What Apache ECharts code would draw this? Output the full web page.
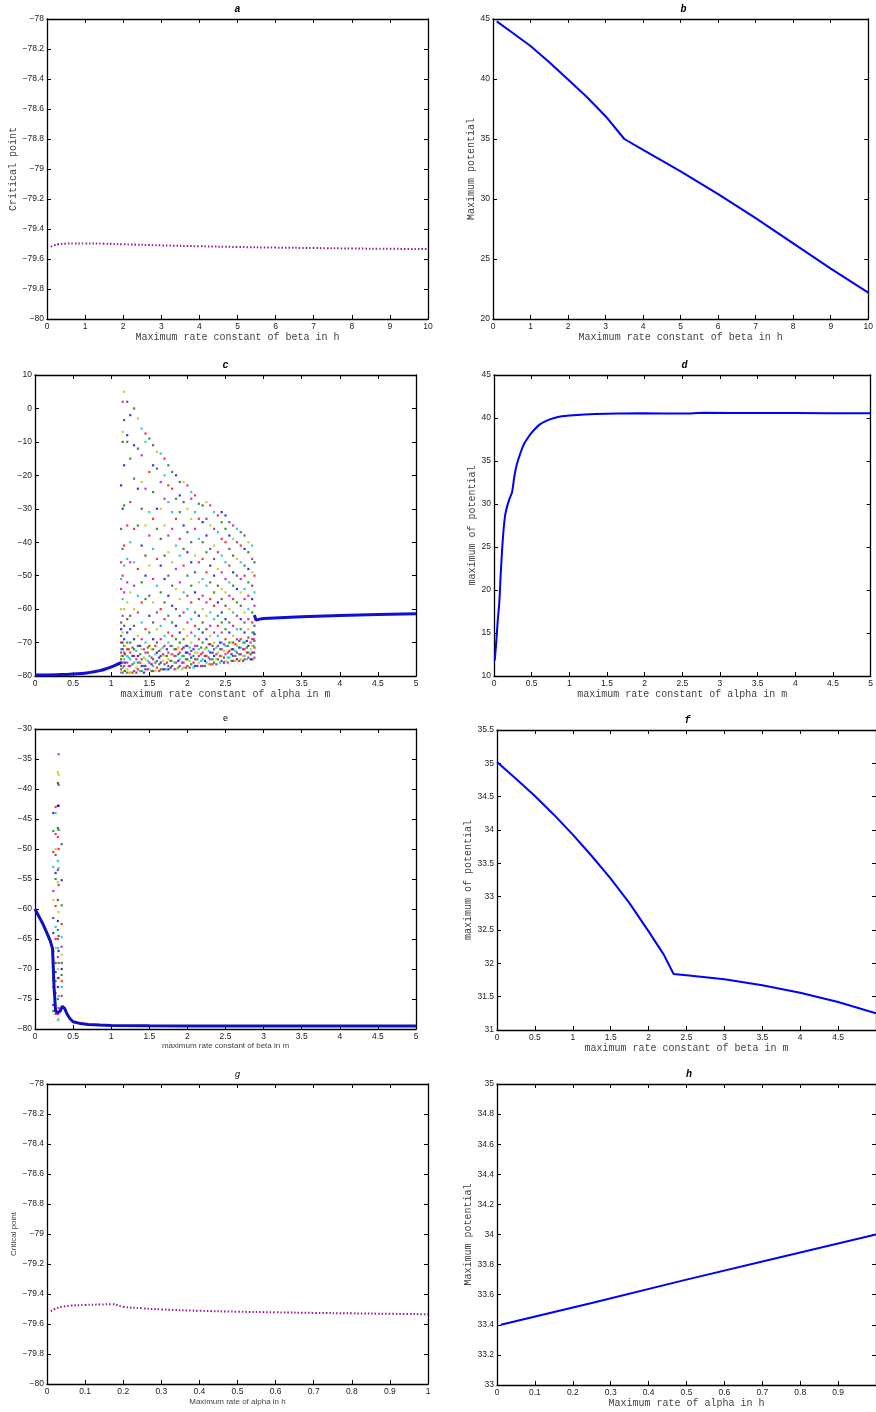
<!DOCTYPE html>
<html>
<head>
<meta charset="utf-8" />
<title>Critical point and maximum potential vs rate constants</title>
<style>
  html, body { margin: 0; padding: 0; background: #fff; }
  #main { width: 876px; height: 1412px; }
</style>
</head>
<body>
<div id="main"></div>
<script src="https://cdn.jsdelivr.net/npm/echarts@6/dist/echarts.min.js"></script>
<script>
// ---- a: critical point vs max rate constant of beta in h
const aX = [0.1, 0.2, 0.3, 0.5, 0.7, 1, 1.5, 2, 3, 4, 5, 6, 7, 8, 9, 10];
const aY = [-79.518, -79.508, -79.502, -79.498, -79.496, -79.496, -79.498, -79.502, -79.509, -79.515, -79.52, -79.524, -79.527, -79.53, -79.532, -79.534];

// ---- b: maximum potential vs max rate constant of beta in h
const bX = [0.1, 0.5, 1, 1.5, 2, 2.5, 3, 3.5, 4, 5, 6, 7, 8, 9, 10];
const bY = [44.8, 43.9, 42.75, 41.4, 39.95, 38.5, 36.9, 35.0, 34.1, 32.3, 30.4, 28.4, 26.3, 24.2, 22.2];

// ---- c: critical point vs max rate constant of alpha in m
const cLeftX = [0, 0.3, 0.5, 0.7, 0.85, 0.95, 1.05, 1.13];
const cLeftY = [-79.7, -79.6, -79.4, -79.0, -78.4, -77.7, -76.8, -76.0];
const cRightX = [2.88, 2.9, 2.95, 3, 3.5, 4, 4.5, 5];
const cRightY = [-61.8, -63.3, -63.0, -62.8, -62.3, -61.9, -61.6, -61.4];
// oscillation cloud, one column of values per x
const cCloudX = [1.13, 1.15, 1.17, 1.21, 1.25, 1.3, 1.35, 1.4, 1.45, 1.5, 1.55, 1.6, 1.65, 1.7, 1.75, 1.8, 1.85, 1.9, 1.95, 2.0,
  2.05, 2.1, 2.15, 2.2, 2.25, 2.3, 2.35, 2.4, 2.45, 2.5, 2.55, 2.6, 2.65, 2.7, 2.75, 2.8, 2.85, 2.88];
const cCloudY = [
  [-23, -36, -46, -51, -54, -60, -64, -66, -68, -70, -72, -73, -74, -75, -76, -77, -78, -79],
  [2, -7, -10, -30, -42, -50, -57, -62, -67, -70, -72, -74, -76, -77.5, -79],
  [5, -3.5, -17, -29, -41, -47, -55, -60, -65, -69, -71, -73, -75, -77, -78.5],
  [2, -8, -10, -35, -45, -52, -58, -63, -67, -70, -72, -74, -76, -78, -79],
  [-2, -15, -28, -40, -46, -55, -62, -66, -70, -73, -75, -77, -79],
  [0, -11, -21, -36, -46, -53, -60, -65, -69, -72, -74, -76, -78.5],
  [-3, -12, -24, -35, -48, -56, -61, -68, -71, -74, -76, -78],
  [-6, -14, -22, -30, -41, -52, -58, -64, -69, -72, -75, -77, -78.5],
  [-7.5, -10, -24, -35, -44, -50, -57, -66, -70, -73, -75, -77, -78],
  [-9, -19, -31, -38, -47, -56, -62, -67, -71, -74, -76, -78],
  [-11, -17, -25, -33, -42, -51, -58, -64, -69, -72, -75, -77, -78.5],
  [-13, -18, -30, -36, -45, -53, -61, -66, -70, -73, -75.5, -77.5],
  [-13.5, -22, -30, -39, -47, -55, -60, -65, -69, -72, -74, -76, -78],
  [-15, -20, -27, -35, -44, -51, -58, -63, -68, -71, -74, -76.5, -78],
  [-17, -23, -28, -38, -43, -50, -56, -62, -67, -70, -73, -75, -77, -78],
  [-19, -24, -31, -36, -46, -53, -59, -64, -68, -71, -73.5, -75.5, -77],
  [-20, -27, -33, -41, -48, -54, -60, -65, -69, -72, -74, -76, -78],
  [-22, -26, -31, -39, -44, -52, -57, -62, -67, -70, -73, -75, -77],
  [-22, -28, -35, -42, -47, -55, -61, -66, -69, -71.5, -74, -76, -77.5],
  [-23, -30, -37, -43, -50, -56, -60, -64, -68, -71, -73, -75, -77],
  [-25, -27, -33, -40, -46, -53, -58, -63, -67, -70, -72.5, -74.5, -76.5],
  [-26, -31, -36, -44, -49, -55, -61, -65, -68, -71, -73, -75, -77],
  [-28.5, -33, -39, -46, -52, -57, -62, -66, -69, -72, -74, -76],
  [-29, -34, -40, -45, -51, -56, -60, -64, -67, -70, -73, -75, -77],
  [-28, -33, -38, -43, -49, -53, -58, -62, -66, -69, -71.5, -74, -76],
  [-29, -35, -42, -47, -52, -57, -61, -65, -68, -70.5, -73, -75, -76.5],
  [-31, -36, -41, -45, -50, -55, -59, -63, -67, -70, -72, -74, -76],
  [-32, -37, -43, -48, -53, -58, -62, -65, -68, -71, -73, -75],
  [-31, -34, -39, -44, -49, -54, -57, -61, -64, -67, -70, -72, -74, -75.5],
  [-32, -36, -40, -46, -51, -55, -59, -63, -66, -69, -71, -73.5, -75.5],
  [-34, -38, -42, -47, -52, -56, -60, -64, -67, -70, -72.5, -74.5],
  [-35, -39, -44, -49, -53, -57, -61, -65, -68, -70, -72, -74, -75.5],
  [-36, -40, -45, -50, -54, -58, -62, -66, -69, -71, -73, -75],
  [-37, -41, -46, -51, -55, -59, -63, -66, -69, -71.5, -73.5, -75],
  [-38, -42, -47, -50, -54, -57, -61, -64, -67, -70, -72, -74, -75],
  [-40, -43, -48, -52, -56, -60, -63, -66, -68.5, -71, -73, -74.5],
  [-41, -45, -49, -53, -57, -61, -64, -67, -69, -71, -73, -75],
  [-46, -50, -55, -59, -62, -65, -67.5, -69.5, -71.5, -73, -74.5]
];
// dense band near the resting level
const cBandX = [1.18, 1.23, 1.28, 1.33, 1.38, 1.43, 1.48, 1.53, 1.58, 1.63, 1.68, 1.73, 1.78, 1.83, 1.88, 1.93, 1.98, 2.03,
  2.08, 2.13, 2.18, 2.23, 2.28, 2.33, 2.38, 2.43, 2.48, 2.53, 2.58, 2.63, 2.68, 2.73, 2.78, 2.83, 2.87];
const cBandY = [
  [-71, -73.5, -76, -78.5], [-72, -74.5, -77, -79], [-71.5, -74, -76.5, -79], [-72.5, -75, -77.5, -79],
  [-71, -73.5, -76, -78.5], [-72, -74.5, -77, -79], [-71.5, -73, -75.5, -78], [-72, -74.5, -76.5, -78.5],
  [-71, -73.5, -76, -78.5], [-72.5, -74.5, -76.5, -78.5], [-71.5, -73.5, -75.5, -78], [-72, -74, -76, -78],
  [-71, -73.5, -75.5, -77.5], [-72, -74, -76, -78], [-71.5, -73.5, -75.5, -77.5], [-72, -74, -76, -78],
  [-71, -73, -75, -77.5], [-71.5, -73.5, -75.5, -77.5], [-72, -74, -76, -77.5], [-71, -73, -75, -77],
  [-71.5, -73.5, -75.5, -77], [-72, -74, -75.5, -77], [-70.5, -72.5, -74.5, -76.5], [-71, -73, -75, -76.5],
  [-71.5, -73.5, -75, -76.5], [-70, -72, -74, -76], [-70.5, -72.5, -74.5, -76], [-71, -73, -74.5, -76],
  [-70, -72, -73.5, -75.5], [-70.5, -72.5, -74, -75.5], [-69.5, -71.5, -73.5, -75.5], [-70, -72, -74, -75.5],
  [-69.5, -71.5, -73, -75], [-70, -72, -73.5, -75], [-67, -69, -71, -73, -75]
];

// ---- d: maximum of potential vs max rate constant of alpha in m
const dX = [0.01, 0.03, 0.05, 0.07, 0.09, 0.11, 0.13, 0.15, 0.18, 0.21, 0.24, 0.27, 0.3, 0.35, 0.4, 0.45, 0.5, 0.6, 0.7, 0.8,
  0.9, 1, 1.2, 1.5, 2, 2.5, 2.8, 3.5, 4, 5];
const dY = [11.8, 14, 16.5, 18.5, 22, 25, 27.3, 28.8, 29.9, 30.7, 31.4, 33.2, 34.5, 35.9, 37, 37.7, 38.3, 39.2, 39.7, 40.0,
  40.2, 40.3, 40.42, 40.5, 40.55, 40.52, 40.6, 40.57, 40.57, 40.55];

// ---- e: critical point vs max rate constant of beta in m
const eX = [0, 0.05, 0.1, 0.15, 0.2, 0.23, 0.25, 0.27, 0.3, 0.33, 0.36, 0.39, 0.42, 0.46, 0.5, 0.6, 0.7, 0.85, 1, 1.5, 2, 3, 4, 5];
const eY = [-60, -61.2, -62.4, -63.8, -65.3, -66.6, -73, -77, -77.3, -77, -76.2, -76.6, -77.5, -78.3, -78.8, -79.1, -79.25,
  -79.35, -79.4, -79.45, -79.48, -79.5, -79.5, -79.5];
const eCloudX = [0.24, 0.27, 0.3, 0.31, 0.35];
const eCloudY = [
  [-44, -47, -50.5, -53, -57, -58.5, -61.5, -64, -67, -68.5, -70, -71.5, -72, -73, -76, -77],
  [-43, -44, -47.5, -50, -51, -54, -55, -59.5, -63, -65, -66.5, -69, -70.5, -72, -74, -76, -77.5],
  [-37.2, -39, -42.8, -46.5, -48, -52, -53.5, -55.5, -58.5, -62, -63.5, -65, -66.5, -68, -70, -71.5, -73, -75, -77.5, -78.5],
  [-34.2, -37.6, -39.3, -42.8, -46.8, -50, -53.2, -56, -60.5, -64.5, -67, -69, -71.5, -74.5, -76.5, -78.3],
  [-49.2, -55.2, -59.4, -62.5, -64.7, -66.3, -67.6, -69, -70, -71, -72, -73, -74.5]
];

// ---- f: maximum of potential vs max rate constant of beta in m
const fX = [0, 0.25, 0.5, 0.75, 1, 1.25, 1.5, 1.75, 2, 2.2, 2.33, 2.5, 3, 3.5, 4, 4.5, 5];
const fY = [35.02, 34.77, 34.51, 34.23, 33.93, 33.61, 33.27, 32.9, 32.48, 32.13, 31.84, 31.82, 31.76, 31.67, 31.56, 31.42, 31.25];

// ---- g: critical point vs max rate of alpha in h
const gX = [0.01, 0.02, 0.04, 0.06, 0.1, 0.14, 0.17, 0.2, 0.25, 0.3, 0.4, 0.5, 0.6, 0.7, 0.8, 0.9, 1];
const gY = [-79.515, -79.5, -79.485, -79.478, -79.473, -79.47, -79.468, -79.485, -79.495, -79.503, -79.512, -79.518,
  -79.522, -79.526, -79.529, -79.532, -79.535];

// ---- h: maximum potential vs max rate of alpha in h
const hX = [0.01, 0.25, 0.5, 0.75, 1];
const hY = [33.4, 33.545, 33.7, 33.85, 34.0];

const MONO = "'Liberation Mono', 'DejaVu Sans Mono', monospace";
const SANS = "'Liberation Sans', Arial, sans-serif";
const DOT_COLORS = ['#0000ff', '#008000', '#ff0000', '#00bfbf', '#bf00bf', '#bfbf00', '#404040'];

const pairs = (xs, ys) => xs.map((x, i) => [x, ys[i]]);
const columns = (xs, cols) => {
  let res = [];
  xs.forEach((x, i) => cols[i].forEach(v => res.push([x, v])));
  return res;
};

const panels = [
  { title: 'a', left: 47, top: 19, width: 381, height: 300, x: [0, 10, 1], y: [-80, -78, 0.2],
    xName: 'Maximum rate constant of beta in h', yName: 'Critical point', font: MONO, xGap: 12, yGap: 27 },
  { title: 'b', left: 493, top: 19, width: 381, height: 300, x: [0, 10, 1], y: [20, 45, 5],
    xName: 'Maximum rate constant of beta in h', yName: 'Maximum potential', font: MONO, xGap: 12, yGap: 15 },
  { title: 'c', left: 35, top: 375, width: 381, height: 301, x: [0, 5, 0.5], y: [-80, 10, 10],
    xName: 'maximum rate constant of alpha in m', yName: '', font: MONO, xGap: 12, yGap: 20 },
  { title: 'd', left: 494, top: 375, width: 381, height: 301, x: [0, 5, 0.5], y: [10, 45, 5],
    xName: 'maximum rate constant of alpha in m', yName: 'maximum of potential', font: MONO, xGap: 12, yGap: 15 },
  { title: 'e', left: 35, top: 729, width: 381, height: 300, x: [0, 5, 0.5], y: [-80, -30, 5],
    xName: 'maximum rate constant of beta in m', yName: '', font: SANS, xGap: 13, yGap: 20, small: true },
  { title: 'f', left: 497, top: 730, width: 381, height: 300, x: [0, 5, 0.5], y: [31, 35.5, 0.5],
    xName: 'maximum rate constant of beta in m', yName: 'maximum of potential', font: MONO, xGap: 12, yGap: 21, hideMax: true },
  { title: 'g', left: 47, top: 1084, width: 381, height: 300, x: [0, 1, 0.1], y: [-80, -78, 0.2],
    xName: 'Maximum rate of alpha in h', yName: 'Critical point', font: SANS, xGap: 14, yGap: 29, small: true, italicTitle: true },
  { title: 'h', left: 497, top: 1084, width: 384, height: 301, x: [0, 1, 0.1], y: [33, 35, 0.2],
    xName: 'Maximum rate of alpha in h', yName: 'Maximum potential', font: MONO, xGap: 12, yGap: 21, hideMax: true }
];

const fmt = v => String(+v.toFixed(2)).replace('-', '\u2212');

const grid = [], xAxis = [], yAxis = [], graphic = [];
panels.forEach((p, i) => {
  grid.push({ left: p.left, top: p.top, width: p.width, height: p.height, containLabel: false });
  const nameStyle = { fontFamily: p.font, fontSize: p.small ? 8 : 10, color: '#444' };
  const base = (r) => ({
    type: 'value', gridIndex: i, min: r[0], max: r[1], interval: r[2],
    splitLine: { show: false },
    axisLine: { show: true, onZero: false, lineStyle: { color: '#000', width: 1.3 } },
    axisTick: { show: true, inside: true, length: 4, lineStyle: { color: '#000', width: 1 } }
  });
  xAxis.push(Object.assign(base(p.x), {
    position: 'bottom',
    axisLabel: { fontFamily: SANS, fontSize: 8.5, color: '#222', margin: 3, formatter: fmt, showMaxLabel: !p.hideMax },
    name: p.xName, nameLocation: 'middle', nameGap: p.xGap, nameTextStyle: nameStyle
  }));
  xAxis.push(Object.assign(base(p.x), { position: 'top', axisLabel: { show: false } }));
  yAxis.push(Object.assign(base(p.y), {
    position: 'left',
    axisLabel: { fontFamily: SANS, fontSize: 8.5, color: '#222', margin: 3, formatter: fmt },
    name: p.yName, nameLocation: 'middle', nameGap: p.yGap, nameTextStyle: nameStyle
  }));
  yAxis.push(Object.assign(base(p.y), { position: 'right', axisLabel: { show: false } }));

  const mono = p.font === MONO;
  graphic.push({
    type: 'text', x: p.left + p.width / 2, y: p.top - 10,
    style: {
      text: p.title, align: 'center', verticalAlign: 'middle', fill: '#000',
      font: mono ? "italic bold 10px " + MONO : (p.italicTitle ? 'italic 9px ' : '9px ') + SANS
    }
  });
});

const lineSeries = (idx, data, opts) => Object.assign({
  type: 'line', xAxisIndex: idx * 2, yAxisIndex: idx * 2, data: data,
  symbol: 'none', animation: false,
  lineStyle: { color: '#0000ff', width: 2 }
}, opts || {});

const dotSeries = (idx, data) => ({
  type: 'scatter', xAxisIndex: idx * 2, yAxisIndex: idx * 2, data: data,
  symbol: 'rect', symbolSize: 2.2, animation: false,
  itemStyle: { color: params => DOT_COLORS[params.dataIndex % DOT_COLORS.length] }
});

const series = [
  lineSeries(0, pairs(aX, aY), { lineStyle: { color: '#9a1a9a', width: 2, type: [1.5, 2] }, smooth: true }),
  lineSeries(1, pairs(bX, bY)),
  dotSeries(2, columns(cCloudX, cCloudY).concat(columns(cBandX, cBandY))),
  lineSeries(2, pairs(cLeftX, cLeftY), { lineStyle: { color: '#1010d0', width: 3 }, smooth: true }),
  lineSeries(2, pairs(cRightX, cRightY), { lineStyle: { color: '#1010d0', width: 3 } }),
  lineSeries(3, pairs(dX, dY), { smooth: 0.3 }),
  dotSeries(4, columns(eCloudX, eCloudY)),
  lineSeries(4, pairs(eX, eY), { lineStyle: { color: '#1010c0', width: 3 } }),
  lineSeries(5, pairs(fX, fY)),
  lineSeries(6, pairs(gX, gY), { lineStyle: { color: '#9a1a9a', width: 2, type: [1.5, 2] }, smooth: true }),
  lineSeries(7, pairs(hX, hY))
];

const chart = echarts.init(document.getElementById('main'), null, { renderer: 'canvas' });
chart.setOption({
  backgroundColor: '#fff',
  animation: false,
  grid: grid,
  xAxis: xAxis,
  yAxis: yAxis,
  graphic: graphic,
  series: series
});
</script>
</body>
</html>
